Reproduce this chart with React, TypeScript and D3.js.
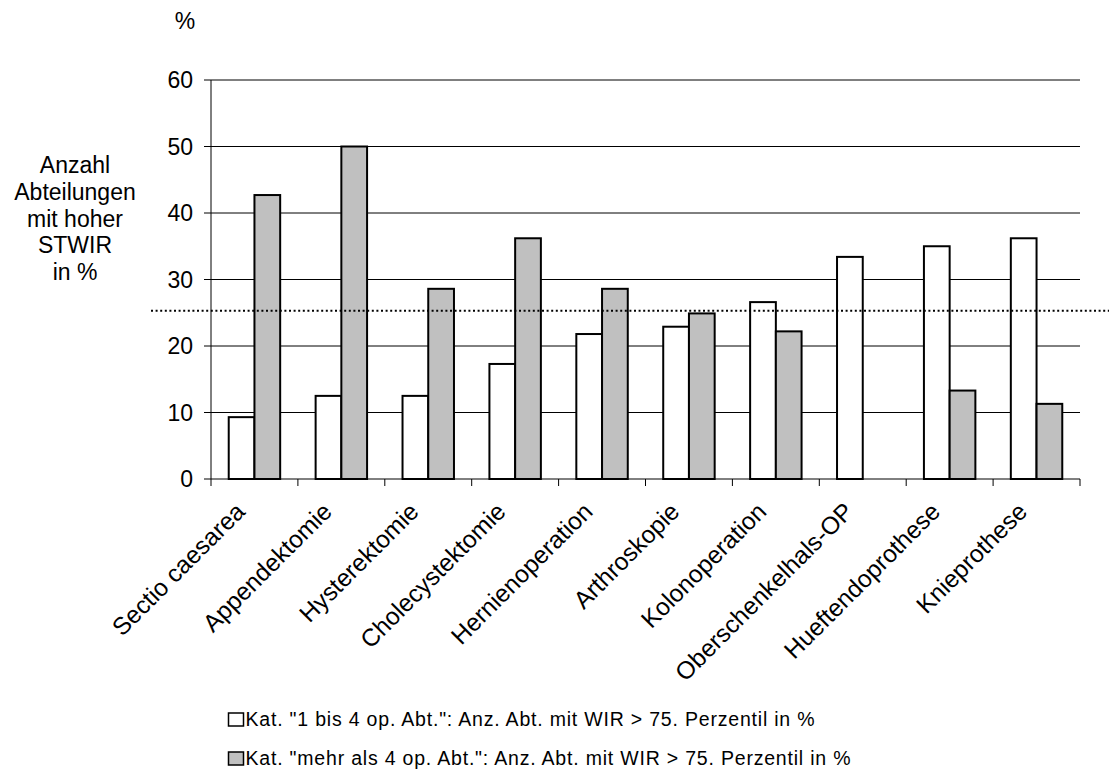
import React from "react";
import * as d3 from "d3";

const categories = [
  "Sectio caesarea",
  "Appendektomie",
  "Hysterektomie",
  "Cholecystektomie",
  "Hernienoperation",
  "Arthroskopie",
  "Kolonoperation",
  "Oberschenkelhals-OP",
  "Hueftendoprothese",
  "Knieprothese",
];
const small = [9.3, 12.5, 12.5, 17.3, 21.8, 22.9, 26.6, 33.4, 35.0, 36.2];
const large = [42.7, 50.0, 28.6, 36.2, 28.6, 24.9, 22.2, 0, 13.3, 11.3];
const yTicks = [0, 10, 20, 30, 40, 50, 60];
const threshold = 25.3;
const legendLabels = [
  'Kat. "1 bis 4 op. Abt.": Anz. Abt. mit WIR > 75. Perzentil in %',
  'Kat. "mehr als 4 op. Abt.": Anz. Abt. mit WIR > 75. Perzentil in %',
];
const yTitle = ["Anzahl", "Abteilungen", "mit hoher", "STWIR", "in %"];

const W = 1109;
const H = 773;
const left = 211;
const right = 1080;
const top = 80;
const bottom = 479;
const FONT = "'Liberation Sans', Arial, sans-serif";

export default function App() {
  const x = d3.scaleBand<string>().domain(categories).range([left, right]).paddingInner(0).paddingOuter(0);
  const y = d3.scaleLinear().domain([0, 60]).range([bottom, top]);
  const bw = x.bandwidth();
  const barW = bw * 0.296;
  const fills = ["#ffffff", "#c0c0c0"];
  const series = [small, large];

  return (
    <svg
      width={W}
      height={H}
      style={{ position: "absolute", left: 0, top: 0, background: "#fff" }}
      fontFamily={FONT}
    >
      <rect x={0} y={0} width={W} height={H} fill="#fff" />
      {yTicks.map((t) => (
        <g key={t}>
          {t > 0 && (
            <line x1={left} x2={right} y1={y(t)} y2={y(t)} stroke="#000" strokeWidth={1} />
          )}
          <line x1={left - 7} x2={left} y1={y(t)} y2={y(t)} stroke="#000" strokeWidth={1} />
          <text x={193} y={y(t) + 8} textAnchor="end" fontSize={23} fill="#000">
            {t}
          </text>
        </g>
      ))}
      {categories.map((c, i) => {
        const cx = (x(c) as number) + bw / 2;
        return (
          <g key={c}>
            {series.map((s, k) => {
              const v = s[i];
              if (v <= 0) return null;
              const bx = cx - barW + k * barW;
              return (
                <rect
                  key={k}
                  x={bx}
                  y={y(v)}
                  width={barW}
                  height={y(0) - y(v)}
                  fill={fills[k]}
                  stroke="#000"
                  strokeWidth={2}
                />
              );
            })}
          </g>
        );
      })}
      <line x1={left} x2={left} y1={top} y2={bottom} stroke="#000" strokeWidth={1} />
      <line x1={left} x2={right} y1={bottom} y2={bottom} stroke="#000" strokeWidth={1} />
      {categories.map((c, i) => (
        <line
          key={"t" + i}
          x1={(x(c) as number) + bw}
          x2={(x(c) as number) + bw}
          y1={bottom}
          y2={bottom + 7}
          stroke="#000"
          strokeWidth={1}
        />
      ))}
      <line x1={left} x2={left} y1={bottom} y2={bottom + 7} stroke="#000" strokeWidth={1} />
      <line
        x1={151}
        x2={W}
        y1={y(threshold)}
        y2={y(threshold)}
        stroke="#000"
        strokeWidth={2}
        strokeDasharray="2,2.6"
      />
      {categories.map((c) => {
        const cx = (x(c) as number) + bw / 2;
        return (
          <text
            key={"l" + c}
            transform={`translate(${cx - 8},${bottom + 34}) rotate(-45)`}
            textAnchor="end"
            fontSize={24.5}
            fill="#000"
          >
            {c}
          </text>
        );
      })}
      <text x={185} y={29} textAnchor="middle" fontSize={23}>
        %
      </text>
      {yTitle.map((t, i) => (
        <text key={t} x={75} y={173.3 + i * 26.7} textAnchor="middle" fontSize={23}>
          {t}
        </text>
      ))}
      {legendLabels.map((t, i) => (
        <g key={t}>
          <rect
            x={228.5}
            y={713 + i * 39}
            width={15}
            height={13}
            fill={fills[i]}
            stroke="#000"
            strokeWidth={1.5}
          />
          <text x={245.5} y={726 + i * 39} fontSize={19.5} letterSpacing={0.8}>
            {t}
          </text>
        </g>
      ))}
    </svg>
  );
}
